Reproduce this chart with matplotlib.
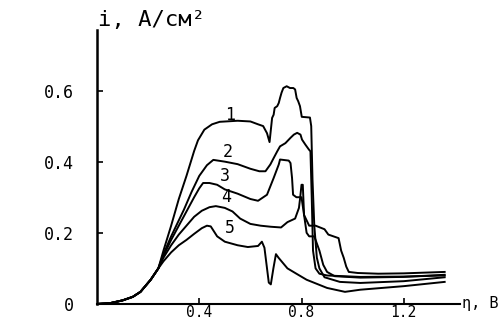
#!/usr/bin/env python3

import matplotlib
matplotlib.use("Agg")
import matplotlib.pyplot as plt

plt.rcParams["font.family"] = ["DejaVu Sans Mono", "DejaVu Sans"]

# shared foot of all five curves (overpotential eta, V -> current density i, A/cm2)
X_FOOT = [0.0, 0.05, 0.10, 0.14, 0.17, 0.21, 0.24]
Y_FOOT = [0.0, 0.002, 0.01, 0.02, 0.034, 0.068, 0.10]

X1 = [0.26, 0.29, 0.32, 0.35, 0.38, 0.395, 0.42, 0.45, 0.48, 0.55, 0.60,
      0.63, 0.65, 0.665, 0.675, 0.685, 0.691, 0.695, 0.705, 0.711, 0.716,
      0.722, 0.729, 0.742, 0.755, 0.768, 0.775, 0.781, 0.787, 0.794, 0.801,
      0.833, 0.838, 0.843, 0.85, 0.86, 0.87, 0.89, 0.95, 1.03, 1.2, 1.36]
Y1 = [0.15, 0.22, 0.295, 0.36, 0.43, 0.46, 0.49, 0.505, 0.512, 0.515, 0.513,
      0.505, 0.50, 0.48, 0.455, 0.523, 0.532, 0.551, 0.556, 0.565, 0.579,
      0.594, 0.607, 0.612, 0.607, 0.607, 0.603, 0.579, 0.570, 0.556, 0.526,
      0.524, 0.50, 0.35, 0.22, 0.13, 0.10, 0.075, 0.062, 0.059, 0.064, 0.075]

X2 = [0.26, 0.29, 0.32, 0.34, 0.37, 0.40, 0.43, 0.455, 0.50, 0.55, 0.60,
      0.635, 0.659, 0.678, 0.691, 0.705, 0.716, 0.737, 0.757, 0.770, 0.783,
      0.796, 0.802, 0.815, 0.829, 0.835, 0.84, 0.845, 0.855, 0.87, 0.90, 1.03,
      1.2, 1.36]
Y2 = [0.14, 0.19, 0.235, 0.265, 0.315, 0.36, 0.39, 0.405, 0.40, 0.393, 0.38,
      0.373, 0.373, 0.392, 0.410, 0.429, 0.443, 0.452, 0.467, 0.476, 0.481,
      0.476, 0.462, 0.448, 0.434, 0.429, 0.30, 0.15, 0.10, 0.085, 0.08, 0.076,
      0.077, 0.08]

X3 = [0.26, 0.29, 0.32, 0.35, 0.38, 0.40, 0.415, 0.44, 0.47, 0.50, 0.55,
      0.60, 0.63, 0.665, 0.691, 0.711, 0.716, 0.75, 0.757, 0.763, 0.767, 0.78,
      0.80, 0.81, 0.83, 0.855, 0.89, 0.905, 0.945, 0.955, 0.965, 0.975, 0.985,
      1.02, 1.1, 1.2, 1.36]
Y3 = [0.135, 0.18, 0.22, 0.26, 0.30, 0.325, 0.34, 0.34, 0.335, 0.322, 0.31,
      0.295, 0.29, 0.307, 0.354, 0.392, 0.406, 0.403, 0.396, 0.354, 0.307,
      0.30, 0.30, 0.25, 0.22, 0.22, 0.21, 0.195, 0.185, 0.15, 0.13, 0.105,
      0.09, 0.087, 0.085, 0.086, 0.09]

X4 = [0.26, 0.29, 0.32, 0.35, 0.38, 0.41, 0.44, 0.465, 0.50, 0.53, 0.56,
      0.60, 0.64, 0.68, 0.72, 0.745, 0.775, 0.79, 0.795, 0.80, 0.805, 0.81,
      0.82, 0.83, 0.85, 0.87, 0.885, 0.90, 0.93, 1.03, 1.2, 1.36]
Y4 = [0.13, 0.165, 0.195, 0.22, 0.245, 0.262, 0.272, 0.275, 0.27, 0.26, 0.24,
      0.225, 0.22, 0.217, 0.215, 0.23, 0.24, 0.27, 0.30, 0.335, 0.335, 0.25,
      0.20, 0.19, 0.19, 0.15, 0.11, 0.09, 0.078, 0.074, 0.076, 0.082]

X5 = [0.26, 0.29, 0.32, 0.35, 0.38, 0.41, 0.43, 0.445, 0.47, 0.50, 0.55,
      0.59, 0.63, 0.645, 0.655, 0.672, 0.68, 0.69, 0.70, 0.71, 0.745, 0.78,
      0.82, 0.90, 0.97, 1.03, 1.2, 1.36]
Y5 = [0.12, 0.145, 0.165, 0.18, 0.197, 0.213, 0.22, 0.218, 0.19, 0.175,
      0.165, 0.16, 0.163, 0.175, 0.158, 0.06, 0.055, 0.10, 0.14, 0.13, 0.10,
      0.085, 0.068, 0.045, 0.034, 0.04, 0.05, 0.062]

CURVE_LABELS = ["1", "2", "3", "4", "5"]
LABEL_X = [0.52, 0.51, 0.50, 0.505, 0.52]
LABEL_Y = [0.53, 0.428, 0.36, 0.30, 0.214]

X_TICKS = [0.4, 0.8, 1.2]
Y_TICKS = [0.0, 0.2, 0.4, 0.6]
Y_TICK_LABELS = ["0", "0.2", "0.4", "0.6"]

fig = plt.figure(figsize=(5, 3.23), dpi=100)
ax = fig.add_axes([0.194, 0.059, 0.726, 0.848])

for xs, ys in [(X1, Y1), (X2, Y2), (X3, Y3), (X4, Y4), (X5, Y5)]:
    ax.plot(X_FOOT + xs, Y_FOOT + ys, color="black", lw=1.4,
            solid_joinstyle="round")

for lab, lx, ly in zip(CURVE_LABELS, LABEL_X, LABEL_Y):
    ax.text(lx, ly, lab, fontsize=12, ha="center", va="center")

ax.set_xlim(0, 1.42)
ax.set_ylim(0, 0.77)
ax.spines["top"].set_visible(False)
ax.spines["right"].set_visible(False)
ax.spines["left"].set_linewidth(1.8)
ax.spines["bottom"].set_linewidth(1.5)

ax.set_xticks(X_TICKS)
ax.set_xticklabels([f"{t:.1f}" for t in X_TICKS])
ax.set_yticks(Y_TICKS)
ax.set_yticklabels(Y_TICK_LABELS)
ax.tick_params(axis="both", direction="in", length=4, width=1.2)
ax.tick_params(axis="y", pad=17, labelsize=12)
ax.tick_params(axis="x", pad=1, labelsize=10.5)

fig.text(0.196, 1 - 20 / 323, "i, A/см²", fontsize=16, ha="left", va="center")
fig.text(0.998, 0.059, "η, В", fontsize=11, ha="right", va="center")

fig.savefig("out.png", dpi=100)
